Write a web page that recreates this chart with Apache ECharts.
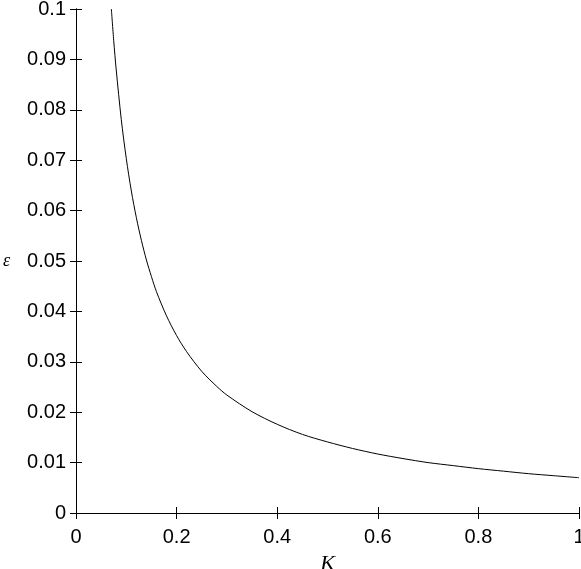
<!DOCTYPE html>
<html>
<head>
<meta charset="utf-8">
<script src="https://cdn.jsdelivr.net/npm/echarts@6/dist/echarts.min.js"></script>
<style>
  html, body { margin: 0; padding: 0; background: #fff; }
  #chart { width: 581px; height: 569px; }
</style>
</head>
<body>
<div id="chart"></div>
<script>
// values
var kValues = [0.0703, 0.075, 0.08, 0.09, 0.1, 0.11, 0.12, 0.13, 0.14, 0.15, 0.16, 0.18, 0.2, 0.22, 0.25, 0.28, 0.3, 0.35, 0.4, 0.45, 0.5, 0.55, 0.6, 0.65, 0.7, 0.75, 0.8, 0.85, 0.9, 0.95, 1.0];
var epsValues = [0.1, 0.0937, 0.0879, 0.0781, 0.0703, 0.0639, 0.0586, 0.0541, 0.0502, 0.0469, 0.0439, 0.0391, 0.0352, 0.0320, 0.0281, 0.0251, 0.0234, 0.0201, 0.0176, 0.0156, 0.0141, 0.0128, 0.0117, 0.0108, 0.0100, 0.0094, 0.0088, 0.0083, 0.0078, 0.0074, 0.0070];

var points = kValues.map(function (k, i) { return [k, epsValues[i]]; });

var chart = echarts.init(document.getElementById('chart'));

var labelFont = { color: '#000', fontSize: 20, fontFamily: 'Liberation Sans' };
var lineStyle = { color: '#000', width: 1 };

chart.setOption({
  animation: false,
  grid: { left: 76, right: 2, top: 9, bottom: 56, containLabel: false, outerBoundsMode: 'none' },
  xAxis: [
    {
      type: 'value', min: 0, max: 1, interval: 0.2, position: 'bottom',
      name: 'K', nameLocation: 'middle', nameGap: 40,
      nameTextStyle: { color: '#000', fontSize: 22, fontStyle: 'italic', fontFamily: 'Liberation Serif' },
      axisLine: { lineStyle: lineStyle },
      axisTick: { inside: true, length: 6, lineStyle: lineStyle },
      axisLabel: Object.assign({ margin: 14 }, labelFont),
      splitLine: { show: false }
    },
    {
      type: 'value', min: 0, max: 1, interval: 0.2, position: 'top',
      axisLine: { lineStyle: lineStyle },
      axisTick: { show: true, inside: true, length: 6, lineStyle: lineStyle },
      axisLabel: { show: false },
      splitLine: { show: false }
    }
  ],
  yAxis: [
    {
      type: 'value', min: 0, max: 0.1, interval: 0.01, position: 'left',
      name: 'ε', nameLocation: 'middle', nameGap: 66, nameRotate: 0,
      nameTextStyle: { color: '#000', fontSize: 18, fontStyle: 'italic', fontFamily: 'Liberation Serif' },
      axisLine: { show: true, lineStyle: lineStyle },
      axisTick: { show: true, inside: true, length: 6, lineStyle: lineStyle },
      axisLabel: Object.assign({ margin: 10 }, labelFont),
      splitLine: { show: false }
    },
    {
      type: 'value', min: 0, max: 0.1, interval: 0.01, position: 'right',
      axisLine: { show: true, lineStyle: lineStyle },
      axisTick: { show: true, inside: true, length: 6, lineStyle: lineStyle },
      axisLabel: { show: false },
      splitLine: { show: false }
    }
  ],
  series: [
    {
      type: 'line',
      data: points,
      smooth: 0.3,
      showSymbol: false,
      clip: true,
      lineStyle: { color: '#000', width: 1 }
    }
  ]
});
</script>
</body>
</html>
